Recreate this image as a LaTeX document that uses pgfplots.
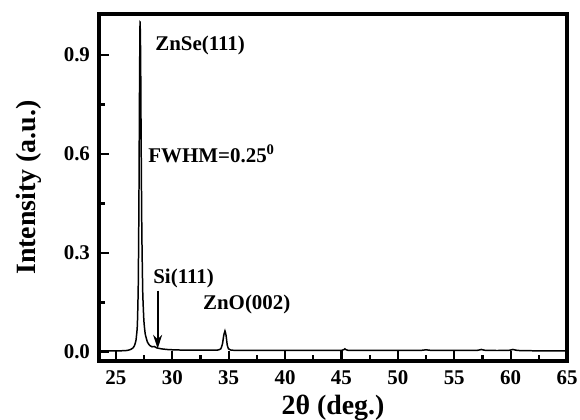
\documentclass[border=0pt]{standalone}
\usepackage{pgfplots}
\pgfplotsset{compat=1.18}
\usetikzlibrary{arrows.meta}
\usepackage{fontspec}
\setmainfont{Liberation Serif}
\begin{document}
\begin{tikzpicture}
\begin{axis}[
  at={(0,0)}, anchor=south west,
  scale only axis,
  width=234bp, height=173.5bp,
  xmin=23.5, xmax=65, ymin=-0.027, ymax=1.024,
  xtick={25,30,...,65}, ytick={0,0.3,0.6,0.9},
  minor x tick num=1, minor y tick num=1,
  tick pos=left, tick align=inside,
  major tick length=5bp, minor tick length=3bp,
  axis line style={line width=1.6pt},
  every tick/.style={line width=1.1pt, black},
  every minor tick/.style={line width=1.1pt, black},
  /pgf/number format/assume math mode=true,
  ticklabel style={font=\bfseries\fontsize{10.5}{12}\selectfont},
  xticklabel style={yshift=-1.5bp},
  yticklabel style={xshift=-1bp, /pgf/number format/.cd, fixed, fixed zerofill, precision=1},
  xlabel={\bfseries 2θ (deg.)},
  ylabel={\bfseries Intensity (a.u.)},
  label style={font=\bfseries\fontsize{14}{16}\selectfont},
  xlabel style={at={(axis description cs:0.5,0)}, anchor=base, inner sep=0pt, yshift=-26.5bp},
  ylabel style={at={(axis description cs:0,0.5)}, anchor=north, inner sep=0pt, yshift=41.5bp},
  clip=true,
]
\addplot[black, line width=0.75pt, smooth, tension=0.3] coordinates {
(23.6,0.004)(24.5,0.004)(25.5,0.004)(26.0,0.005)(26.3,0.008)(26.5,0.012)(26.65,0.020)(26.78,0.036)(26.9,0.08)(26.98,0.20)(27.04,0.45)(27.09,0.78)(27.14,1.0)(27.19,0.9)(27.24,0.62)(27.30,0.36)(27.38,0.18)(27.48,0.095)(27.6,0.055)(27.8,0.03)(28.0,0.02)(28.2,0.016)(28.4,0.017)(28.6,0.013)(29.0,0.010)(29.5,0.008)(30.0,0.007)(31,0.006)(32,0.006)(33,0.006)(34.0,0.006)(34.3,0.010)(34.45,0.025)(34.56,0.050)(34.67,0.064)(34.77,0.050)(34.87,0.022)(34.98,0.010)(35.2,0.006)(36,0.005)(38,0.005)(40,0.005)(42,0.005)(45.0,0.005)(45.3,0.010)(45.6,0.005)(48,0.005)(50,0.005)(52,0.005)(52.5,0.007)(53,0.005)(55,0.005)(57,0.005)(57.4,0.008)(57.8,0.005)(59.8,0.005)(60.2,0.008)(60.6,0.005)(62,0.004)(64.9,0.004)
};
\node[anchor=west, inner sep=0pt, font=\bfseries\fontsize{10.5}{12}\selectfont] at (axis cs:28.46,0.93) {ZnSe(111)};
\node[anchor=west, inner sep=0pt, font=\bfseries\fontsize{10.5}{12}\selectfont] at (axis cs:27.85,0.60) {FWHM=0.25$^{\mathbf{0}}$};
\node[inner sep=0pt, font=\bfseries\fontsize{10.5}{12}\selectfont] at (axis cs:31.0,0.224) {Si(111)};
\node[inner sep=0pt, font=\bfseries\fontsize{10.5}{12}\selectfont] at (axis cs:36.6,0.144) {ZnO(002)};
\draw[-{Stealth[length=7bp,width=4.5bp]}, line width=0.9pt] (axis cs:28.7,0.186) -- (axis cs:28.7,0.01);
\end{axis}
\pgfresetboundingbox
\path (-49.5bp,-29.5bp) rectangle (240.5bp,180.5bp);
\end{tikzpicture}
\end{document}
